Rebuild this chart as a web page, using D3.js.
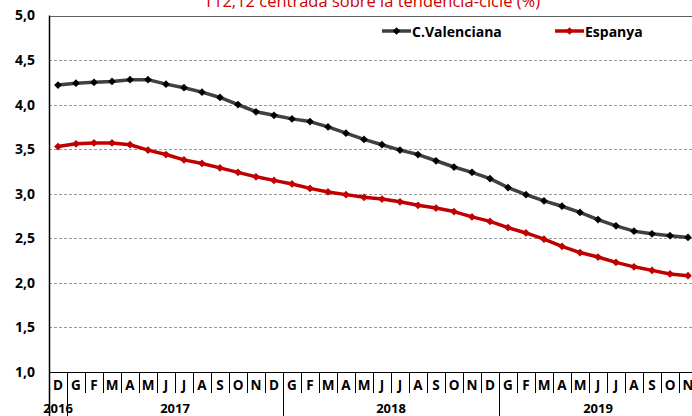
<!DOCTYPE html>
<html>
<head>
<meta charset="utf-8">
<script src="https://cdn.jsdelivr.net/npm/d3@7"></script>
<style>
  html, body { margin: 0; padding: 0; background: #fff; }
  svg { display: block; font-family: "Open Sans", Lato, sans-serif; }
</style>
</head>
<body>
<div id="chart"></div>
<script>
  'use strict';

  var months = ['D', 'G', 'F', 'M', 'A', 'M', 'J', 'J', 'A', 'S', 'O', 'N',
    'D', 'G', 'F', 'M', 'A', 'M', 'J', 'J', 'A', 'S', 'O', 'N',
    'D', 'G', 'F', 'M', 'A', 'M', 'J', 'J', 'A', 'S', 'O', 'N'];
  var years = [
    { label: '2016', from: 0, to: 0 },
    { label: '2017', from: 1, to: 12 },
    { label: '2018', from: 13, to: 24 },
    { label: '2019', from: 25, to: 35 }
  ];
  var valenciana = [4.22, 4.24, 4.25, 4.26, 4.28, 4.28, 4.23, 4.19, 4.14, 4.08, 4.00, 3.92,
    3.88, 3.84, 3.81, 3.75, 3.68, 3.61, 3.55, 3.49, 3.44, 3.37, 3.30, 3.24,
    3.17, 3.07, 2.99, 2.92, 2.86, 2.79, 2.71, 2.64, 2.58, 2.55, 2.53, 2.51];
  var espanya = [3.53, 3.56, 3.57, 3.57, 3.55, 3.49, 3.44, 3.38, 3.34, 3.29, 3.24, 3.19,
    3.15, 3.11, 3.06, 3.02, 2.99, 2.96, 2.94, 2.91, 2.87, 2.84, 2.80, 2.74,
    2.69, 2.62, 2.56, 2.49, 2.41, 2.34, 2.29, 2.23, 2.18, 2.14, 2.10, 2.08];
  var yTicks = [1.0, 1.5, 2.0, 2.5, 3.0, 3.5, 4.0, 4.5, 5.0];
  var series = [
    { name: 'C.Valenciana', values: valenciana, line: '#404040', marker: '#000000', legendX: 382 },
    { name: 'Espanya', values: espanya, line: '#c00000', marker: '#c00000', legendX: 555 }
  ];

  var width = 692, height = 416;
  var plotLeft = 49, plotTop = 15.5, plotBottom = 372;

  var svg = d3.select('#chart').append('svg')
    .attr('width', width)
    .attr('height', height);

  var x = d3.scaleBand()
    .domain(d3.range(months.length))
    .range([plotLeft, plotLeft + 18 * months.length])
    .padding(0);

  var y = d3.scaleLinear()
    .domain([1, 5])
    .range([plotBottom, plotTop]);

  var fmt = function(v) { return d3.format('.1f')(v).replace('.', ','); };

  // title (top part is cut off in the source)
  svg.append('text')
    .attr('x', 372)
    .attr('y', 6.5)
    .attr('text-anchor', 'middle')
    .attr('fill', '#d00000')
    .style('font-size', '16.5px')
    .text('T12,12 centrada sobre la tendència-cicle (%)');

  // gridlines
  svg.append('g').selectAll('line')
    .data(yTicks.filter(function(t) { return t > 1 && t < 5; }))
    .enter().append('line')
    .attr('x1', plotLeft).attr('x2', width)
    .attr('y1', function(d) { return Math.round(y(d)) + 0.5; })
    .attr('y2', function(d) { return Math.round(y(d)) + 0.5; })
    .attr('stroke', '#9a9a9a')
    .attr('stroke-dasharray', '3,2');

  svg.append('line')
    .attr('x1', plotLeft).attr('x2', width)
    .attr('y1', Math.round(y(5)) + 0.5).attr('y2', Math.round(y(5)) + 0.5)
    .attr('stroke', '#606060');

  // y axis
  var yAxis = d3.axisLeft(y).tickValues(yTicks).tickFormat(fmt).tickSize(0).tickPadding(14);
  var gy = svg.append('g')
    .attr('transform', 'translate(' + plotLeft + ',0)')
    .call(yAxis);
  gy.select('.domain').remove();
  gy.selectAll('text')
    .attr('fill', '#000')
    .style('font-size', '14px')
    .style('font-weight', 'bold')
    .style('font-family', '"Open Sans", sans-serif');

  svg.append('line')
    .attr('x1', plotLeft + 0.5).attr('x2', plotLeft + 0.5)
    .attr('y1', plotTop).attr('y2', height)
    .attr('stroke', '#000').attr('stroke-width', 1.5);

  svg.append('line')
    .attr('x1', plotLeft).attr('x2', width)
    .attr('y1', plotBottom + 0.5).attr('y2', plotBottom + 0.5)
    .attr('stroke', '#000');

  // month dividers and labels
  var xg = svg.append('g');
  xg.selectAll('line.m')
    .data(d3.range(1, months.length))
    .enter().append('line')
    .attr('class', 'm')
    .attr('x1', function(i) { return Math.round(x(i)) + 0.5; })
    .attr('x2', function(i) { return Math.round(x(i)) + 0.5; })
    .attr('y1', plotBottom)
    .attr('y2', function(i) {
      return years.some(function(yr) { return yr.from === i; }) ? height : plotBottom + 21;
    })
    .attr('stroke', '#000');

  xg.selectAll('text.m')
    .data(months)
    .enter().append('text')
    .attr('class', 'm')
    .attr('x', function(d, i) { return x(i) + x.bandwidth() / 2; })
    .attr('y', plotBottom + 18)
    .attr('text-anchor', 'middle')
    .style('font-size', '13.5px')
    .style('font-weight', 'bold')
    .text(function(d) { return d; });

  xg.selectAll('text.y')
    .data(years)
    .enter().append('text')
    .attr('class', 'y')
    .attr('x', function(d) { return (x(d.from) + x(d.to) + x.bandwidth()) / 2; })
    .attr('y', 413)
    .attr('text-anchor', 'middle')
    .style('font-size', '13px')
    .style('font-weight', 'bold')
    .text(function(d) { return d.label; });

  // lines
  var line = d3.line()
    .x(function(d, i) { return x(i) + x.bandwidth() / 2; })
    .y(function(d) { return y(d); });

  var diamond = d3.symbol().type(d3.symbolSquare).size(30);

  series.forEach(function(s) {
    var g = svg.append('g');
    g.append('path')
      .datum(s.values)
      .attr('d', line)
      .attr('fill', 'none')
      .attr('stroke', s.line)
      .attr('stroke-width', 3.5)
      .attr('stroke-linejoin', 'round');
    g.selectAll('path.pt')
      .data(s.values)
      .enter().append('path')
      .attr('class', 'pt')
      .attr('d', diamond)
      .attr('transform', function(d, i) {
        return 'translate(' + (x(i) + x.bandwidth() / 2) + ',' + y(d) + ') rotate(45)';
      })
      .attr('fill', s.marker);

    // legend
    var lg = svg.append('g').attr('transform', 'translate(' + s.legendX + ',31)');
    lg.append('line')
      .attr('x1', 0).attr('x2', 29)
      .attr('stroke', s.line).attr('stroke-width', 3.5);
    lg.append('path')
      .attr('d', diamond)
      .attr('transform', 'translate(14.5,0) rotate(45)')
      .attr('fill', s.marker);
    lg.append('text')
      .attr('x', 30)
      .attr('y', 6)
      .style('font-size', '14px')
      .style('font-weight', 'bold')
      .text(s.name);
  });
</script>
</body>
</html>
